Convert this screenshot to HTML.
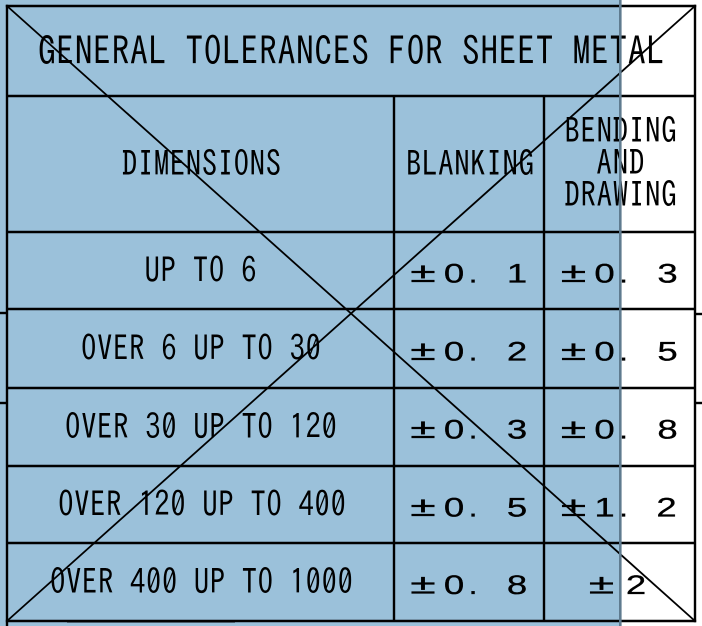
<!DOCTYPE html>
<html>
<head>
<meta charset="utf-8">
<style>
html,body{margin:0;padding:0;background:#fff;}
body{width:702px;height:626px;overflow:hidden;}
svg{display:block;}
.g{font-family:"IPAGothic","Liberation Mono",monospace;fill:#000;}
.v{font-family:"Liberation Sans",sans-serif;fill:#000;font-size:26.5px;stroke:#000;stroke-width:0.3;}
</style>
</head>
<body>
<svg width="702" height="626" viewBox="0 0 702 626" xmlns="http://www.w3.org/2000/svg">
  <rect x="0" y="0" width="620" height="626" fill="#9bc1da"/>
  <rect x="620" y="0" width="82" height="626" fill="#ffffff"/>

  <!-- grid lines -->
  <g stroke="#000" stroke-width="2.4" fill="none">
    <line x1="5.8" y1="6" x2="696.2" y2="6"/>
    <line x1="5.8" y1="621" x2="696.2" y2="621"/>
    <line x1="7" y1="4.8" x2="7" y2="626"/>
    <line x1="695" y1="4.8" x2="695" y2="622.2"/>
    <line x1="7" y1="96" x2="695" y2="96"/>
    <line x1="7" y1="232" x2="695" y2="232"/>
    <line x1="7" y1="309" x2="695" y2="309"/>
    <line x1="7" y1="388" x2="695" y2="388"/>
    <line x1="7" y1="466" x2="695" y2="466"/>
    <line x1="7" y1="543" x2="695" y2="543"/>
    <line x1="394" y1="96" x2="394" y2="621"/>
    <line x1="544" y1="96" x2="544" y2="621"/>
    <!-- stubs -->
    <line x1="0" y1="313" x2="7" y2="313"/>
    <line x1="0" y1="403" x2="7" y2="403"/>
    <line x1="695" y1="314" x2="702" y2="314"/>
    <line x1="695" y1="403" x2="702" y2="403"/>
  </g>
  <line x1="67" y1="622.5" x2="235" y2="622.5" stroke="#4a5a66" stroke-width="1"/>

  <!-- diagonals -->
  <g stroke="#000" stroke-width="1.8">
    <line x1="7" y1="6" x2="695" y2="621"/>
    <line x1="7" y1="621" x2="695" y2="6"/>
  </g>

  <!-- title -->
  <text class="g" transform="translate(351,65) scale(0.95,1.07)" x="0" y="0" font-size="37" text-anchor="middle" textLength="659" lengthAdjust="spacing">GENERAL TOLERANCES FOR SHEET METAL</text>

  <!-- header -->
  <text class="g" transform="translate(201.5,176) scale(0.94,1.08)" font-size="32.4" text-anchor="middle" textLength="169" lengthAdjust="spacing">DIMENSIONS</text>
  <text class="g" transform="translate(470,176) scale(0.94,1.08)" font-size="32.4" text-anchor="middle" textLength="136" lengthAdjust="spacing">BLANKING</text>
  <text class="g" transform="translate(620.5,143) scale(0.94,1.06)" font-size="32.4" text-anchor="middle" textLength="119" lengthAdjust="spacing">BENDING</text>
  <text class="g" transform="translate(620.5,175) scale(0.94,1.06)" font-size="32.4" text-anchor="middle" textLength="51" lengthAdjust="spacing">AND</text>
  <text class="g" transform="translate(620.5,207) scale(0.94,1.06)" font-size="32.4" text-anchor="middle" textLength="119" lengthAdjust="spacing">DRAWING</text>

  <!-- dimension rows -->
  <text class="g" transform="translate(200.5,282.5) scale(0.94,1.08)" font-size="32.4" text-anchor="middle" textLength="119" lengthAdjust="spacing">UP TO 6</text>
  <text class="g" transform="translate(201,360.5) scale(0.94,1.08)" font-size="32.4" text-anchor="middle" textLength="255" lengthAdjust="spacing">OVER 6 UP TO 30</text>
  <text class="g" transform="translate(201,439) scale(0.94,1.08)" font-size="32.4" text-anchor="middle" textLength="289" lengthAdjust="spacing">OVER 30 UP TO 120</text>
  <text class="g" transform="translate(202,516.5) scale(0.94,1.08)" font-size="32.4" text-anchor="middle" textLength="306" lengthAdjust="spacing">OVER 120 UP TO 400</text>
  <text class="g" transform="translate(201.5,594) scale(0.94,1.08)" font-size="32.4" text-anchor="middle" textLength="322" lengthAdjust="spacing">OVER 400 UP TO 1000</text>

  <!-- values: blanking -->
  <g class="v">
    <text transform="translate(423,282) scale(1.75,1.05)" text-anchor="middle">±</text>
    <text transform="translate(454,282.5) scale(1.38,1)" text-anchor="middle">0</text>
    <text transform="translate(473,282.5) scale(1.2,1)" text-anchor="middle">.</text>
    <text transform="translate(517,282.5) scale(1.38,1)" text-anchor="middle">1</text>

    <text transform="translate(423,360) scale(1.75,1.05)" text-anchor="middle">±</text>
    <text transform="translate(454,360.5) scale(1.38,1)" text-anchor="middle">0</text>
    <text transform="translate(473,360.5) scale(1.2,1)" text-anchor="middle">.</text>
    <text transform="translate(517,360.5) scale(1.38,1)" text-anchor="middle">2</text>

    <text transform="translate(423,438) scale(1.75,1.05)" text-anchor="middle">±</text>
    <text transform="translate(454,438.5) scale(1.38,1)" text-anchor="middle">0</text>
    <text transform="translate(473,438.5) scale(1.2,1)" text-anchor="middle">.</text>
    <text transform="translate(517,438.5) scale(1.38,1)" text-anchor="middle">3</text>

    <text transform="translate(423,516) scale(1.75,1.05)" text-anchor="middle">±</text>
    <text transform="translate(454,516.5) scale(1.38,1)" text-anchor="middle">0</text>
    <text transform="translate(473,516.5) scale(1.2,1)" text-anchor="middle">.</text>
    <text transform="translate(517,516.5) scale(1.38,1)" text-anchor="middle">5</text>

    <text transform="translate(423,593.5) scale(1.75,1.05)" text-anchor="middle">±</text>
    <text transform="translate(454,594) scale(1.38,1)" text-anchor="middle">0</text>
    <text transform="translate(473,594) scale(1.2,1)" text-anchor="middle">.</text>
    <text transform="translate(517,594) scale(1.38,1)" text-anchor="middle">8</text>
  </g>

  <!-- values: bending -->
  <g class="v">
    <text transform="translate(573.5,282) scale(1.75,1.05)" text-anchor="middle">±</text>
    <text transform="translate(604.5,282.5) scale(1.38,1)" text-anchor="middle">0</text>
    <text transform="translate(623.5,282.5) scale(1.2,1)" text-anchor="middle">.</text>
    <text transform="translate(667.5,282.5) scale(1.38,1)" text-anchor="middle">3</text>

    <text transform="translate(573.5,360) scale(1.75,1.05)" text-anchor="middle">±</text>
    <text transform="translate(604.5,360.5) scale(1.38,1)" text-anchor="middle">0</text>
    <text transform="translate(623.5,360.5) scale(1.2,1)" text-anchor="middle">.</text>
    <text transform="translate(667.5,360.5) scale(1.38,1)" text-anchor="middle">5</text>

    <text transform="translate(573.5,438) scale(1.75,1.05)" text-anchor="middle">±</text>
    <text transform="translate(604.5,438.5) scale(1.38,1)" text-anchor="middle">0</text>
    <text transform="translate(623.5,438.5) scale(1.2,1)" text-anchor="middle">.</text>
    <text transform="translate(667.5,438.5) scale(1.38,1)" text-anchor="middle">8</text>

    <text transform="translate(573.5,516) scale(1.75,1.05)" text-anchor="middle">±</text>
    <text transform="translate(604.5,516.5) scale(1.38,1)" text-anchor="middle">1</text>
    <text transform="translate(623.5,516.5) scale(1.2,1)" text-anchor="middle">.</text>
    <text transform="translate(666.5,516.5) scale(1.38,1)" text-anchor="middle">2</text>

    <text transform="translate(601.5,593.5) scale(1.75,1.05)" text-anchor="middle">±</text>
    <text transform="translate(636,594) scale(1.38,1)" text-anchor="middle">2</text>
  </g>

  <!-- selection overlay edge -->
  <rect x="619" y="0" width="2.6" height="626" fill="#5f7b8f"/>
</svg>
</body>
</html>
